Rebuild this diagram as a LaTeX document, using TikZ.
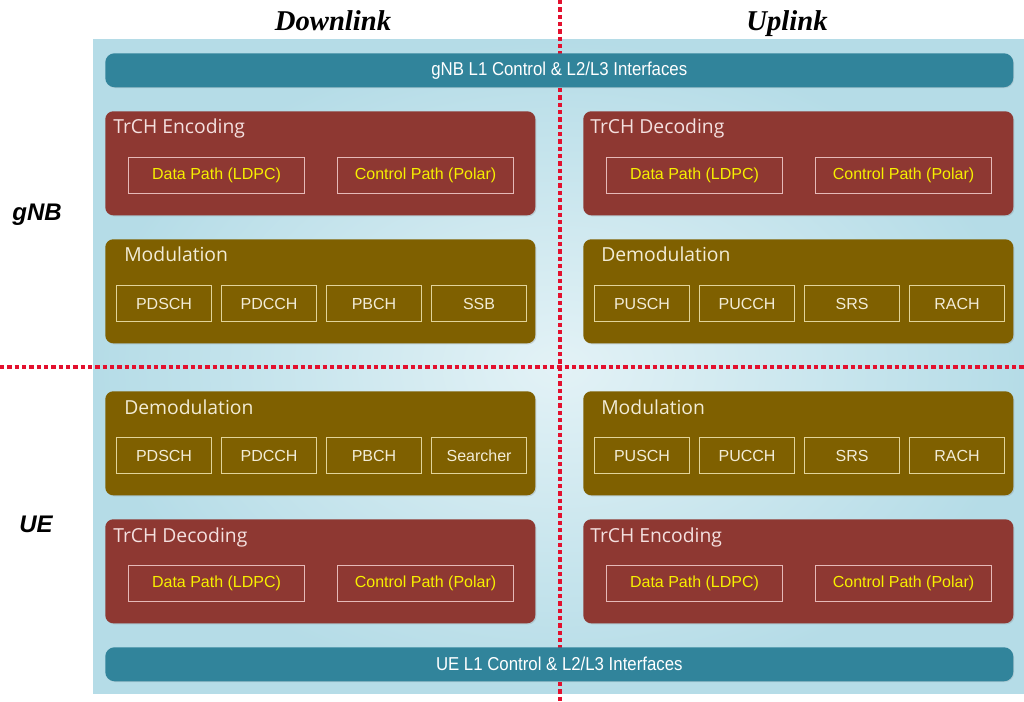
\documentclass[tikz,border=0pt]{standalone}
\usepackage{fontspec}
\setmainfont{Liberation Sans}
\newfontfamily\titlefont{Open Sans}
\newfontfamily\headfont{Liberation Serif}
\newfontfamily\barfont[FakeStretch=0.9]{Liberation Sans}
\usetikzlibrary{shadows}
\definecolor{bgout}{HTML}{B5DCE7}
\definecolor{bgin}{HTML}{E3F2F6}
\definecolor{bar}{HTML}{31849B}
\definecolor{redbox}{HTML}{8E3832}
\definecolor{olivebox}{HTML}{7F6000}
\definecolor{redline}{HTML}{E6B9B8}
\definecolor{oliveline}{HTML}{E2D49A}
\definecolor{yel}{HTML}{F7F000}
\definecolor{olivetext}{HTML}{F2ECD6}
\definecolor{redtitle}{HTML}{F4E0DF}
\definecolor{dotred}{HTML}{E3102E}
\tikzset{
  big/.style={anchor=north west, rounded corners=6pt, minimum width=322.5pt, minimum height=78pt, inner sep=0pt,
    drop shadow={opacity=0.25, shadow xshift=0.8pt, shadow yshift=-0.8pt}},
  trch/.style={big, fill=redbox},
  modb/.style={big, fill=olivebox},
  pathbox/.style={anchor=north west, draw=redline, line width=0.8pt, minimum width=132pt, minimum height=27pt, inner sep=0pt,
    text=yel, font=\fontsize{12}{14}\selectfont},
  chbox/.style={anchor=north west, draw=oliveline, line width=0.8pt, minimum width=71.25pt, minimum height=27pt, inner sep=0pt,
    text=olivetext, font=\fontsize{12}{14}\selectfont},
  redtitlestyle/.style={anchor=base west, inner sep=0pt, text=redtitle, font=\titlefont\fontsize{14.5}{17}\selectfont},
  modtitlestyle/.style={anchor=base west, inner sep=0pt, text=olivetext, font=\titlefont\fontsize{14.5}{17}\selectfont},
  barbox/.style={anchor=north west, rounded corners=7pt, fill=bar, minimum width=681pt, minimum height=25.5pt, inner sep=0pt,
    text=white, font=\barfont\fontsize{14}{16}\selectfont,
    drop shadow={opacity=0.2, shadow xshift=0.6pt, shadow yshift=-0.6pt}},
  header/.style={anchor=base, font=\headfont\bfseries\itshape\fontsize{21.5}{24}\selectfont, inner sep=0pt},
  side/.style={anchor=base, font=\bfseries\itshape\fontsize{18}{20}\selectfont, inner sep=0pt},
  divider/.style={draw=dotred, line width=2.4pt, dash pattern=on 3.2pt off 2.3pt}
}
\begin{document}
\begin{tikzpicture}[x=0.75pt, y=-0.75pt]
\useasboundingbox (0,0) rectangle (1024,702);
% background
\shade[inner color=bgin, outer color=bgout] (93,40) rectangle (1024,693);
% dividers
\coordinate (vt) at (560,0);
\coordinate (vb) at (560,702);
\coordinate (hl) at (0,367);
\coordinate (hr) at (1024,367);
\draw[divider] (vt) -- (vb);
\draw[divider] (hl) -- (hr);
% headers
\node[header] (dl) at (333,31) {Downlink};
\node[header] (ul) at (787,31) {Uplink};
\node[side] (gnb) at (37,221) {gNB};
\node[side] (ue) at (36,532) {UE};
% bars
\node[barbox] (gbar) at (105,53) {gNB L1 Control \& L2/L3 Interfaces};
\node[barbox] (ubar) at (105,647) {UE L1 Control \& L2/L3 Interfaces};
% ---- gNB downlink
\node[trch] (enc1) at (105,111) {};
\node[redtitlestyle] (enc1t) at (113,134) {TrCH Encoding};
\node[pathbox] (enc1d) at (128,157) {Data Path (LDPC)};
\node[pathbox] (enc1c) at (337,157) {Control Path (Polar)};
\node[modb] (mod1) at (105,239) {};
\node[modtitlestyle] (mod1t) at (124,262) {Modulation};
\node[chbox] (mod1a) at (116,285) {PDSCH};
\node[chbox] (mod1b) at (221,285) {PDCCH};
\node[chbox] (mod1c) at (326,285) {PBCH};
\node[chbox] (mod1d) at (431,285) {SSB};
% ---- gNB uplink
\node[trch] (dec1) at (583,111) {};
\node[redtitlestyle] (dec1t) at (590,134) {TrCH Decoding};
\node[pathbox] (dec1d) at (606,157) {Data Path (LDPC)};
\node[pathbox] (dec1c) at (815,157) {Control Path (Polar)};
\node[modb] (dem1) at (583,239) {};
\node[modtitlestyle] (dem1t) at (601,262) {Demodulation};
\node[chbox] (dem1a) at (594,285) {PUSCH};
\node[chbox] (dem1b) at (699,285) {PUCCH};
\node[chbox] (dem1c) at (804,285) {SRS};
\node[chbox] (dem1d) at (909,285) {RACH};
% ---- UE downlink
\node[modb] (dem2) at (105,391) {};
\node[modtitlestyle] (dem2t) at (124,414) {Demodulation};
\node[chbox] (dem2a) at (116,437) {PDSCH};
\node[chbox] (dem2b) at (221,437) {PDCCH};
\node[chbox] (dem2c) at (326,437) {PBCH};
\node[chbox] (dem2d) at (431,437) {Searcher};
\node[trch] (dec2) at (105,519) {};
\node[redtitlestyle] (dec2t) at (113,542) {TrCH Decoding};
\node[pathbox] (dec2d) at (128,565) {Data Path (LDPC)};
\node[pathbox] (dec2c) at (337,565) {Control Path (Polar)};
% ---- UE uplink
\node[modb] (mod2) at (583,391) {};
\node[modtitlestyle] (mod2t) at (601,414) {Modulation};
\node[chbox] (mod2a) at (594,437) {PUSCH};
\node[chbox] (mod2b) at (699,437) {PUCCH};
\node[chbox] (mod2c) at (804,437) {SRS};
\node[chbox] (mod2d) at (909,437) {RACH};
\node[trch] (enc2) at (583,519) {};
\node[redtitlestyle] (enc2t) at (590,542) {TrCH Encoding};
\node[pathbox] (enc2d) at (606,565) {Data Path (LDPC)};
\node[pathbox] (enc2c) at (815,565) {Control Path (Polar)};
\end{tikzpicture}
\end{document}
